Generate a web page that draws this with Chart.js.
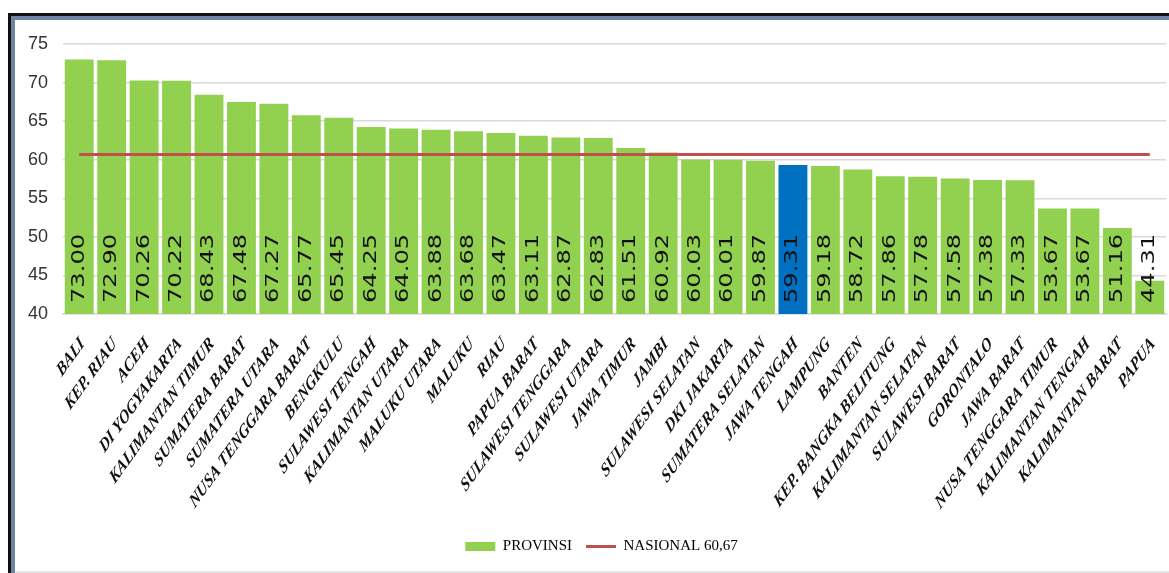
<!DOCTYPE html>
<html>
<head>
<meta charset="utf-8">
<script src="https://cdn.jsdelivr.net/npm/chart.js@4.4.0/dist/chart.umd.min.js"></script>
<style>
  html, body { margin:0; padding:0; background:#fff; overflow:hidden; }
  #wrap { position:relative; width:1169px; height:573px; }
  #grafik { position:absolute; left:0; top:0; }
  #bingkai { position:absolute; left:8px; top:13px; width:1200px; height:600px;
             border-top:3px solid #111; border-left:3px solid #111;
             box-shadow: inset 4px 4px 0 #6d84a4; pointer-events:none; }
  #garis-bawah { position:absolute; left:15px; top:571px; width:1160px; height:2px; background:#e4e4e4; }
</style>
</head>
<body>
<div id="wrap">
  <canvas id="grafik" width="1169" height="573"></canvas>
  <div id="bingkai"></div>
  <div id="garis-bawah"></div>
</div>
<script>
// ─── DATA ───────────────────────────────────────────────
const provinsi = [
  'BALI', 'KEP. RIAU', 'ACEH', 'DI YOGYAKARTA', 'KALIMANTAN TIMUR', 'SUMATERA BARAT',
  'SUMATERA UTARA', 'NUSA TENGGARA BARAT', 'BENGKULU', 'SULAWESI TENGAH', 'KALIMANTAN UTARA',
  'MALUKU UTARA', 'MALUKU', 'RIAU', 'PAPUA BARAT', 'SULAWESI TENGGARA', 'SULAWESI UTARA',
  'JAWA TIMUR', 'JAMBI', 'SULAWESI SELATAN', 'DKI JAKARTA', 'SUMATERA SELATAN', 'JAWA TENGAH',
  'LAMPUNG', 'BANTEN', 'KEP. BANGKA BELITUNG', 'KALIMANTAN SELATAN', 'SULAWESI BARAT',
  'GORONTALO', 'JAWA BARAT', 'NUSA TENGGARA TIMUR', 'KALIMANTAN TENGAH', 'KALIMANTAN BARAT', 'PAPUA'
];
const nilai = [
  73.00, 72.90, 70.26, 70.22, 68.43, 67.48,
  67.27, 65.77, 65.45, 64.25, 64.05,
  63.88, 63.68, 63.47, 63.11, 62.87, 62.83,
  61.51, 60.92, 60.03, 60.01, 59.87, 59.31,
  59.18, 58.72, 57.86, 57.78, 57.58,
  57.38, 57.33, 53.67, 53.67, 51.16, 44.31
];
const nasional = 60.67;
const sorotan = 'JAWA TENGAH';
const yTicks = [40, 45, 50, 55, 60, 65, 70, 75];

const hijau = '#92D050';
const biru = '#0070C0';
const merah = '#C0504D';

// label nilai tegak di dalam batang
const labelNilai = {
  id: 'labelNilai',
  afterDatasetsDraw(chart) {
    const ctx = chart.ctx;
    const meta = chart.getDatasetMeta(0);
    const dasar = chart.scales.y.bottom;
    ctx.save();
    ctx.fillStyle = '#111';
    ctx.font = '17px "DejaVu Sans"';
    ctx.textBaseline = 'middle';
    ctx.textAlign = 'left';
    meta.data.forEach((bar, i) => {
      ctx.save();
      ctx.translate(bar.x, dasar - 11);
      ctx.rotate(-Math.PI / 2);
      ctx.scale(1.42, 1);
      ctx.fillText(nilai[i].toFixed(2), 0, 0);
      ctx.restore();
    });
    ctx.restore();
  }
};

// label provinsi miring (teks 45° lalu diregang tegak, seperti gambar aslinya)
const labelProvinsi = {
  id: 'labelProvinsi',
  afterDraw(chart) {
    const ctx = chart.ctx;
    const sx = chart.scales.x;
    ctx.save();
    ctx.fillStyle = '#111';
    ctx.font = 'italic bold 14px "Liberation Serif"';
    ctx.textAlign = 'right';
    ctx.textBaseline = 'middle';
    provinsi.forEach((p, i) => {
      ctx.save();
      ctx.translate(sx.getPixelForTick(i) + 3, sx.top + 27);
      ctx.scale(1, 1.4);
      ctx.rotate(-Math.PI / 4);
      ctx.fillText(p, 0, 0);
      ctx.restore();
    });
    ctx.restore();
  }
};

// legenda sedikit ke kanan, seperti aslinya
const geserLegenda = {
  id: 'geserLegenda',
  afterLayout(chart) {
    if (chart.legend) { chart.legend.left += 12; chart.legend.right += 12; }
  }
};

new Chart(document.getElementById('grafik'), {
  type: 'bar',
  data: {
    labels: provinsi,
    datasets: [
      { type: 'bar', label: 'PROVINSI', data: nilai,
        backgroundColor: provinsi.map(p => p === sorotan ? biru : hijau),
        barPercentage: 0.89, categoryPercentage: 1, order: 2 },
      { type: 'line', label: 'NASIONAL 60,67', data: provinsi.map(() => nasional),
        borderColor: merah, backgroundColor: merah, borderWidth: 3, pointRadius: 0, order: 1 }
    ]
  },
  options: {
    responsive: false,
    animation: false,
    layout: { padding: { left: 13, top: 44, right: 3, bottom: 9 } },
    plugins: {
      tooltip: { enabled: false },
      legend: {
        position: 'bottom',
        labels: {
          usePointStyle: true, pointStyleWidth: 30, boxHeight: 9, padding: 14,
          color: '#111', font: { family: '"Liberation Serif"', size: 15 },
          generateLabels: () => [
            { text: 'PROVINSI', fillStyle: hijau, strokeStyle: hijau, lineWidth: 0, pointStyle: 'rect', datasetIndex: 0 },
            { text: 'NASIONAL 60,67', fillStyle: merah, strokeStyle: merah, lineWidth: 3, pointStyle: 'line', datasetIndex: 1 }
          ]
        }
      }
    },
    scales: {
      y: {
        min: 40, max: 75,
        afterBuildTicks: s => { s.ticks = yTicks.map(v => ({ value: v })); },
        ticks: { color: '#333', padding: 15, font: { family: '"Liberation Sans"', size: 18 } },
        grid: { color: '#d9d9d9', lineWidth: 1.5, drawTicks: false },
        border: { display: false }
      },
      x: {
        ticks: { display: false },
        afterFit: s => { s.height = 211; },
        grid: { display: false },
        border: { color: '#d9d9d9', width: 1.5 }
      }
    }
  },
  plugins: [labelNilai, labelProvinsi, geserLegenda]
});
</script>
</body>
</html>
